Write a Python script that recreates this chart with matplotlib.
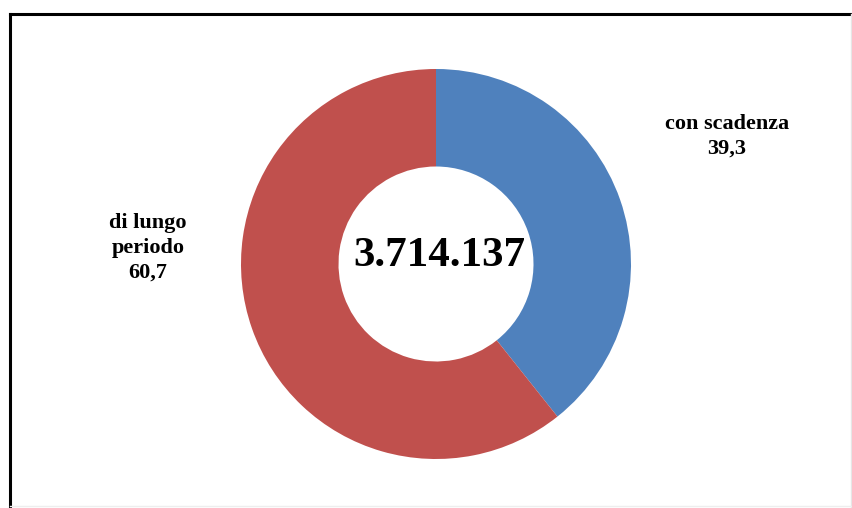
import matplotlib
matplotlib.use("Agg")
import matplotlib.pyplot as plt
from matplotlib.lines import Line2D

categories = ["con scadenza", "di lungo\nperiodo"]
values = [39.3, 60.7]
value_labels = ["39,3", "60,7"]
total_label = "3.714.137"
colors = ["#4F81BD", "#C0504D"]

W, H = 853, 508
fig = plt.figure(figsize=(W / 100, H / 100), dpi=100)
fig.patch.set_facecolor("white")

cx, cy, r = 436, 244, 195
ax = fig.add_axes([(cx - r) / W, (cy - r) / H, 2 * r / W, 2 * r / H])
ax.pie(values, colors=colors, startangle=90, counterclock=False, radius=1.0,
       wedgeprops=dict(width=0.5, linewidth=0))
ax.set_xlim(-1, 1)
ax.set_ylim(-1, 1)
ax.set_aspect("auto")
ax.axis("off")

serif = ["Liberation Serif", "DejaVu Serif"]
fig.text(439 / W, 252 / H, total_label, ha="center", va="center",
         fontsize=31, fontweight="bold", family=serif)

fig.text(727 / W, 372 / H, f"{categories[0]}\n{value_labels[0]}", ha="center", va="center",
         fontsize=16, fontweight="bold", family=serif, linespacing=1.32)
fig.text(148 / W, 260 / H, f"{categories[1]}\n{value_labels[1]}", ha="center", va="center",
         fontsize=16, fontweight="bold", family=serif, linespacing=1.32)

# frame
lx, ty = 9.5 / W, (H - 13.5) / H
fig.add_artist(Line2D([lx, lx], [0, ty], transform=fig.transFigure, color="black", lw=2.2))
fig.add_artist(Line2D([lx, 1], [ty, ty], transform=fig.transFigure, color="black", lw=2.2))
fig.add_artist(Line2D([851.5 / W, 851.5 / W], [0, ty], transform=fig.transFigure, color="#e6e6e6", lw=1))
fig.add_artist(Line2D([lx, 1], [2.5 / H, 2.5 / H], transform=fig.transFigure, color="#eeeeee", lw=1))

fig.savefig("out.png", dpi=100, facecolor="white")
